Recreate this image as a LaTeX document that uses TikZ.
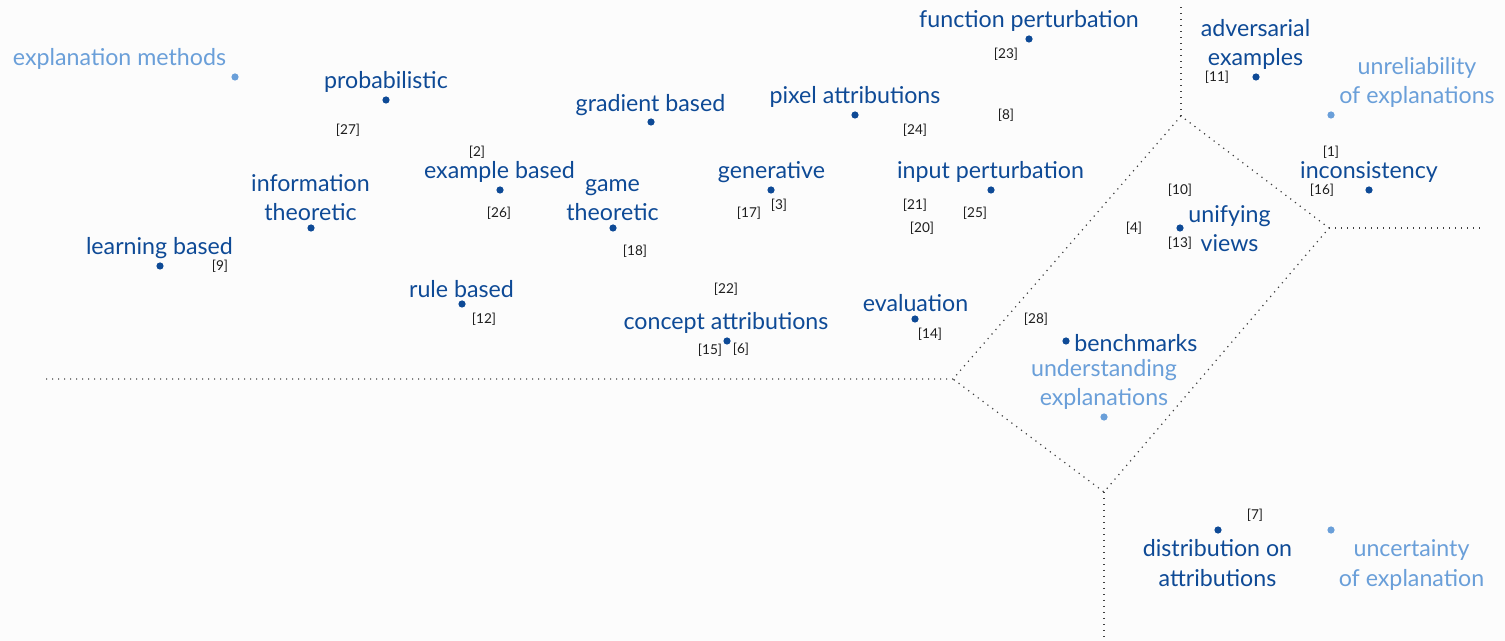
\documentclass[tikz,border=0pt]{standalone}
\usepackage{fontspec}
\setmainfont{Lato}
\definecolor{db}{RGB}{14,74,150}
\definecolor{lb}{RGB}{106,159,217}
\definecolor{rf}{RGB}{30,30,30}
\definecolor{bg}{RGB}{252,252,252}
\tikzset{
  dotd/.style={circle, fill=db, inner sep=0pt, minimum size=3.6pt},
  dotl/.style={circle, fill=lb, inner sep=0pt, minimum size=3.6pt},
  labd/.style={text=db, font=\fontsize{11.6}{14.5}\selectfont, align=center, inner sep=0pt, anchor=base, yshift=-1pt},
  labl/.style={text=lb, font=\fontsize{11.6}{14.5}\selectfont, align=center, inner sep=0pt, anchor=base, yshift=-1pt},
  citelab/.style={text=rf, font=\fontsize{6.8}{8}\selectfont, inner sep=0pt},
  boundary/.style={draw=black!75, line width=0.6pt, dash pattern=on 0.6pt off 2.4pt}
}
\begin{document}
\begin{tikzpicture}[x=0.5pt,y=-0.5pt]
\fill[bg] (0,0) rectangle (1505,641);
\useasboundingbox (0,0) rectangle (1505,641);
% boundaries
\coordinate (vl) at (953,379);
\coordinate (vt) at (1181,116);
\coordinate (vr) at (1329,228);
\coordinate (vb) at (1104,492);
\coordinate (el) at (46,379);
\coordinate (et) at (1181,4);
\coordinate (er) at (1482,228);
\coordinate (eb) at (1104,641);
\draw[boundary] (el) -- (vl) -- (vt) -- (vr) -- (vb) -- (vl);
\draw[boundary] (vt) -- (et);
\draw[boundary] (vr) -- (er);
\draw[boundary] (vb) -- (eb);
% categories (light); multi-line nodes are placed by their last baseline
\node[dotl] (d-em) at (235,77) {};
\node[labl] (t-em) at (119.5,64) {explanation methods};
\node[dotl] (d-ue) at (1104,417) {};
\node[labl] (t-ue) at (1104,404) {understanding\\explanations};
\node[dotl] (d-ur) at (1331,115) {};
\node[labl] (t-ur) at (1417,102) {unreliability\\of explanations};
\node[dotl] (d-un) at (1331,530) {};
\node[labl] (t-un) at (1411.5,584) {uncertainty\\of explanation};
% topics (dark)
\node[dotd] (d-pr) at (386,100) {};
\node[labd] (t-pr) at (386,87) {probabilistic};
\node[dotd] (d-eb) at (500,190) {};
\node[labd] (t-eb) at (499.5,177) {example based};
\node[dotd] (d-it) at (311,228) {};
\node[labd] (t-it) at (310.5,219) {information\\theoretic};
\node[dotd] (d-lb) at (160,266) {};
\node[labd] (t-lb) at (159.5,253) {learning based};
\node[dotd] (d-gb) at (651,122) {};
\node[labd] (t-gb) at (650.5,110) {gradient based};
\node[dotd] (d-pa) at (855,115) {};
\node[labd] (t-pa) at (855,102) {pixel attributions};
\node[dotd] (d-fp) at (1029,39) {};
\node[labd] (t-fp) at (1029,26) {function perturbation};
\node[dotd] (d-gt) at (613,228) {};
\node[labd] (t-gt) at (612.5,219) {game\\theoretic};
\node[dotd] (d-ge) at (771,190) {};
\node[labd] (t-ge) at (771.5,177) {generative};
\node[dotd] (d-ip) at (991,190) {};
\node[labd] (t-ip) at (990.5,177) {input perturbation};
\node[dotd] (d-rb) at (462,304) {};
\node[labd] (t-rb) at (461.5,296) {rule based};
\node[dotd] (d-ca) at (727,341) {};
\node[labd] (t-ca) at (726,328) {concept attributions};
\node[dotd] (d-ev) at (915,319) {};
\node[labd] (t-ev) at (915.5,310) {evaluation};
\node[dotd] (d-bm) at (1066,341) {};
\node[labd, anchor=base west] (t-bm) at (1074,350) {benchmarks};
\node[dotd] (d-uv) at (1180,228) {};
\node[labd] (t-uv) at (1229.5,250) {unifying\\views};
\node[dotd] (d-ae) at (1256,77) {};
\node[labd] (t-ae) at (1255.5,64) {adversarial\\examples};
\node[dotd] (d-ic) at (1369,190) {};
\node[labd] (t-ic) at (1369,177) {inconsistency};
\node[dotd] (d-da) at (1218,530) {};
\node[labd] (t-da) at (1217.5,584) {distribution on\\attributions};
% citations
\node[citelab] (c27) at (348,130) {[27]};
\node[citelab] (c2) at (477,152) {[2]};
\node[citelab] (c26) at (499,213) {[26]};
\node[citelab] (c9) at (220,266) {[9]};
\node[citelab] (c23) at (1006,54) {[23]};
\node[citelab] (c8) at (1006,115) {[8]};
\node[citelab] (c24) at (915,130) {[24]};
\node[citelab] (c18) at (635,251) {[18]};
\node[citelab] (c17) at (749,213) {[17]};
\node[citelab] (c3) at (779,205) {[3]};
\node[citelab] (c21) at (915,205) {[21]};
\node[citelab] (c20) at (922,228) {[20]};
\node[citelab] (c25) at (975,213) {[25]};
\node[citelab] (c12) at (484,319) {[12]};
\node[citelab] (c22) at (726,289) {[22]};
\node[citelab] (c15) at (710,350) {[15]};
\node[citelab] (c6) at (741,349) {[6]};
\node[citelab] (c14) at (930,334) {[14]};
\node[citelab] (c28) at (1036,319) {[28]};
\node[citelab] (c10) at (1180,190) {[10]};
\node[citelab] (c4) at (1134,228) {[4]};
\node[citelab] (c13) at (1180,243) {[13]};
\node[citelab] (c11) at (1217,77) {[11]};
\node[citelab] (c1) at (1331,152) {[1]};
\node[citelab] (c16) at (1322,190) {[16]};
\node[citelab] (c7) at (1255,515) {[7]};
\end{tikzpicture}
\end{document}
